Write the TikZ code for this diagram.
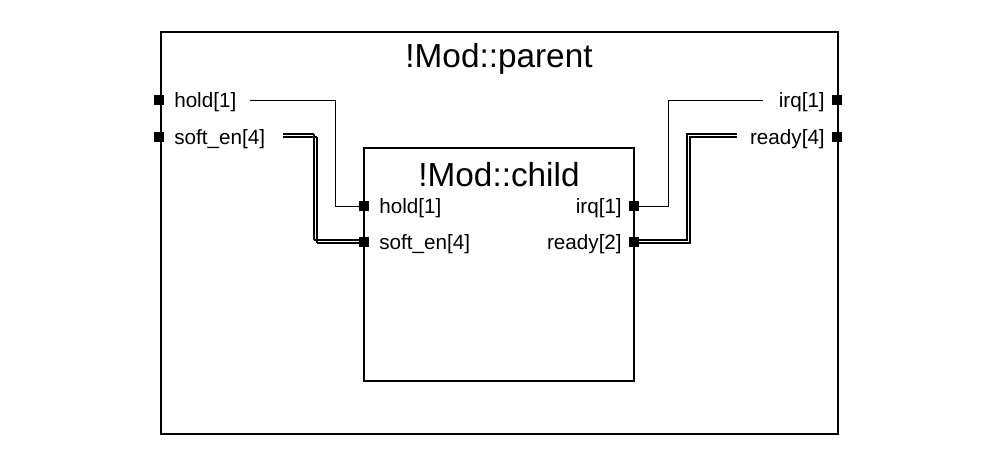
\documentclass[tikz,border=0pt]{standalone}
\usepackage{fontspec}
\setmainfont{Liberation Sans}
\usetikzlibrary{positioning}
\tikzset{port/.style={rectangle,fill=black,minimum size=7.5pt,inner sep=0pt},
lbl/.style={inner sep=0pt,font=\fontsize{15.5}{17}\selectfont},
ttl/.style={inner sep=0pt,font=\fontsize{25}{28}\selectfont},
box/.style={draw=black,line width=0.9pt},
wire/.style={draw=black,line width=0.5pt}}
\begin{document}
\begin{tikzpicture}[x=0.75pt,y=-0.75pt]
\useasboundingbox (0,0) rectangle (999,473);
\draw[box] (161,32) rectangle (838,434);
\node(parent) [ttl] at (499,59) {!Mod::parent};
\draw[box] (364,148) rectangle (634,381);
\node(child) [ttl] at (499,175) {!Mod::child};
% parent ports
\node(phold) [port] at (159,100) {};
\node(psoft) [port] at (159,137) {};
\node(pirq) [port] at (837,100) {};
\node(pready) [port] at (837,137) {};
\node[lbl,anchor=west] at (174,102) {hold[1]};
\node[lbl,anchor=west] at (174,139) {soft\_en[4]};
\node[lbl,anchor=east] at (825,102) {irq[1]};
\node[lbl,anchor=east] at (825,139) {ready[4]};
% child ports
\node(chold) [port] at (364,206) {};
\node(csoft) [port] at (364,242) {};
\node(cirq) [port] at (634,206) {};
\node(cready) [port] at (634,242) {};
\node[lbl,anchor=west] at (379,208) {hold[1]};
\node[lbl,anchor=west] at (379,244) {soft\_en[4]};
\node[lbl,anchor=east] at (622,208) {irq[1]};
\node[lbl,anchor=east] at (622,244) {ready[2]};
% wires
\coordinate (hs) at (250,100);
\coordinate (is) at (763,100);
\draw[wire] (hs) -| (335,206) -- (chold);
\draw[wire] (is) -| (668,206) -- (cirq);
\foreach \d in {0,1.5,3,4.5}{
  \draw[wire] (283,133+\d) -- (313+\d,133+\d) -- (313+\d,239+\d) -- (csoft.west |- 0,239+\d);
  \draw[wire] (737,133+\d) -- (686+\d,133+\d) -- (686+\d,239+\d) -- (cready.east |- 0,239+\d);
}
\end{tikzpicture}
\end{document}
